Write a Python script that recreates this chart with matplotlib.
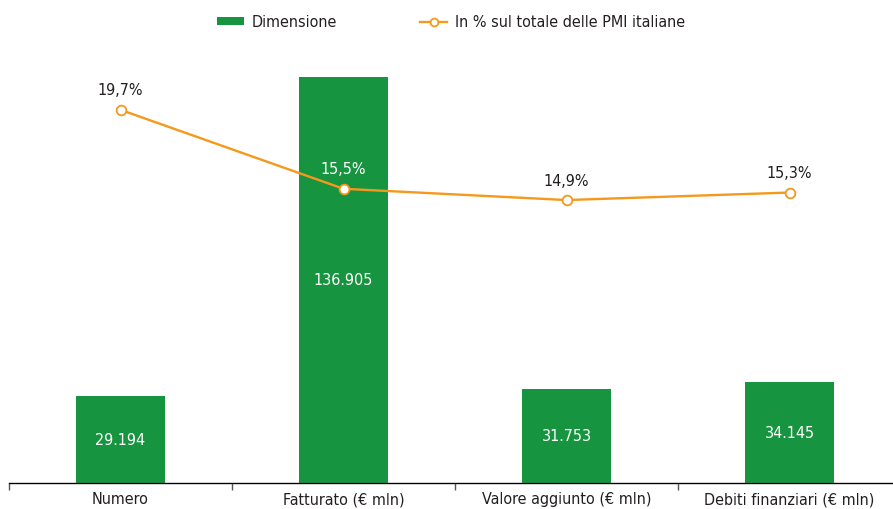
import numpy as np
import matplotlib.pyplot as plt

categories = ["Numero", "Fatturato (€ mln)", "Valore aggiunto (€ mln)", "Debiti finanziari (€ mln)"]
dimensione = [29194, 136905, 31753, 34145]
quota_pct = [19.7, 15.5, 14.9, 15.3]
bar_labels = ["29.194", "136.905", "31.753", "34.145"]
pct_labels = ["19,7%", "15,5%", "14,9%", "15,3%"]

green = "#17943f"
orange = "#f5991c"
txt = "#231f20"

plt.rcParams['font.family'] = ['DejaVu Sans']
plt.rcParams['font.stretch'] = 'condensed'

fig = plt.figure(figsize=(8.93, 5.10), dpi=100)
W, H = 893, 510
left, right, bottom, top = 9, 901, 484, 40
ax = fig.add_axes([left / W, 1 - bottom / H, (right - left) / W, (bottom - top) / H])
ax2 = ax.twinx()

x = np.arange(len(categories))
ax.bar(x, dimensione, width=0.4, color=green, label="Dimensione", zorder=2)
ax.set_xlim(-0.5, len(categories) - 0.5)
ax.set_ylim(0, 136905 * (bottom - top) / 406)

fs = 11.5
for xi, v, lab in zip(x, dimensione, bar_labels):
    ax.text(xi, v / 2, lab, ha='center', va='center', color='white', fontsize=fs)

ax2.plot(x, quota_pct, color=orange, lw=1.7, marker='o', ms=7, mfc='white',
         mec=orange, mew=1.3, label="In % sul totale delle PMI italiane", zorder=3)
ax2.set_ylim(-0.15, -0.15 + (bottom - top) / 18.8)

for i, (xi, v, lab) in enumerate(zip(x, quota_pct, pct_labels)):
    c = 'white' if i == 1 else txt
    ax2.annotate(lab, (xi, v), xytext=(0, 9), textcoords='offset points',
                 ha='center', va='bottom', color=c, fontsize=fs)

for a in (ax, ax2):
    for s in ('top', 'right', 'left'):
        a.spines[s].set_visible(False)
    a.set_yticks([])
ax.spines['bottom'].set_color('#555555')
ax.spines['bottom'].set_linewidth(1.0)

ax.set_xticks(x)
ax.set_xticklabels(categories, fontsize=fs, color=txt)
ax.tick_params(axis='x', which='major', length=0, pad=6)
ax.set_xticks(np.arange(-0.5, len(categories), 1.0), minor=True)
ax.tick_params(axis='x', which='minor', length=5, color='#555555', width=1)

h1, l1 = ax.get_legend_handles_labels()
h2, l2 = ax2.get_legend_handles_labels()
leg = fig.legend(h1 + h2, l1 + l2, loc='upper center', bbox_to_anchor=(0.505, 0.998),
                 ncol=2, frameon=False, fontsize=fs, columnspacing=5.2,
                 handlelength=1.7, handleheight=0.4, handletextpad=0.5,
                 labelcolor=txt, markerscale=0.8)

fig.savefig("out.png", dpi=100)
